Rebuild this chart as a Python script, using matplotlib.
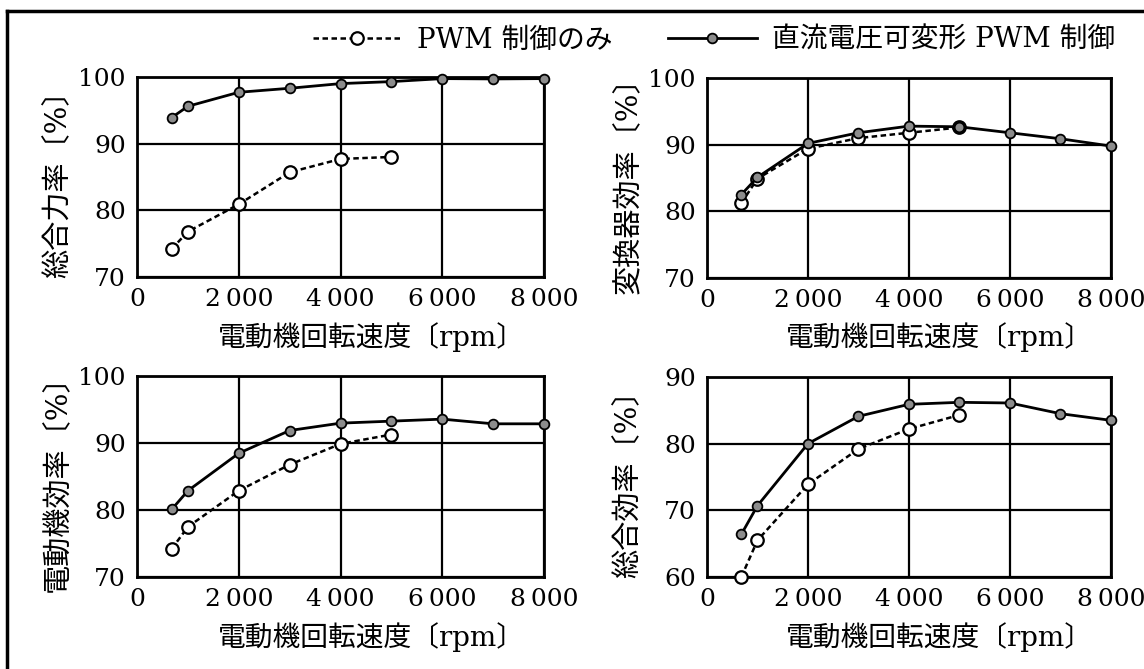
import matplotlib.pyplot as plt
import matplotlib.ticker as ticker
from matplotlib.lines import Line2D

plt.rcParams['font.family'] = ['DejaVu Serif', 'Noto Sans CJK JP']

# motor speed [rpm]
speed_dc = [680, 1000, 2000, 3000, 4000, 5000, 6000, 7000, 8000]
speed_pwm = [680, 1000, 2000, 3000, 4000, 5000]

# 総合力率
pf_pwm = [74.2, 76.8, 80.9, 85.7, 87.7, 88.0]
pf_dc = [93.9, 95.6, 97.7, 98.3, 99.0, 99.3, 99.75, 99.7, 99.75]
# 変換器効率
conv_pwm = [81.2, 84.9, 89.4, 91.0, 91.8, 92.6]
conv_dc = [82.5, 85.1, 90.2, 91.8, 92.8, 92.7, 91.8, 90.9, 89.8]
# 電動機効率
motor_pwm = [74.2, 77.5, 82.9, 86.8, 89.9, 91.3]
motor_dc = [80.1, 82.9, 88.5, 91.9, 93.0, 93.3, 93.6, 92.9, 92.9]
# 総合効率
total_pwm = [60.0, 65.5, 73.9, 79.2, 82.2, 84.3]
total_dc = [66.4, 70.7, 80.0, 84.1, 85.9, 86.2, 86.1, 84.5, 83.5]

x_ticks = [0, 2000, 4000, 6000, 8000]
x_label = '電動機回転速度〔rpm〕'
label_pwm = 'PWM 制御のみ'
label_dc = '直流電圧可変形 PWM 制御'

panels = [
    ('総合力率〔%〕', pf_pwm, pf_dc, [70, 80, 90, 100]),
    ('変換器効率〔%〕', conv_pwm, conv_dc, [70, 80, 90, 100]),
    ('電動機効率〔%〕', motor_pwm, motor_dc, [70, 80, 90, 100]),
    ('総合効率〔%〕', total_pwm, total_dc, [60, 70, 80, 90]),
]

PWM_STYLE = dict(color='black', lw=1.8, dashes=(2.2, 1.4), marker='o',
                 ms=9, mfc='white', mec='black', mew=1.6)
DC_STYLE = dict(color='black', lw=2.0, marker='o',
                ms=7, mfc='#8c8c8c', mec='black', mew=1.3)


def format_rpm(val, _):
    return f"{int(val):,}".replace(",", "\u2009")


def draw_panel(ax, ylabel, y_pwm, y_dc, y_ticks):
    ax.plot(speed_pwm, y_pwm, clip_on=False, zorder=3, **PWM_STYLE)
    ax.plot(speed_dc, y_dc, clip_on=False, zorder=4, **DC_STYLE)
    ax.set_xlim(0, 8000)
    ax.set_ylim(y_ticks[0], y_ticks[-1])
    ax.set_xticks(x_ticks)
    ax.set_yticks(y_ticks)
    ax.xaxis.set_major_formatter(ticker.FuncFormatter(format_rpm))
    ax.grid(True, color='black', lw=1.6)
    ax.set_axisbelow(True)
    for sp in ax.spines.values():
        sp.set_linewidth(2)
    ax.tick_params(length=0, labelsize=18, pad=8)
    ax.set_xlabel(x_label, fontsize=20, va='center')
    ax.xaxis.set_label_coords(0.575, -0.30)
    ax.set_ylabel(ylabel, fontsize=21, va='center')
    ax.yaxis.set_label_coords(-0.197, 0.5)


def main():
    fig = plt.figure(figsize=(11.44, 6.69), dpi=100)
    boxes = [
        [0.1198, 0.586, 0.3558, 0.299],
        [0.618, 0.585, 0.353, 0.298],
        [0.1198, 0.1375, 0.3558, 0.300],
        [0.618, 0.1375, 0.353, 0.299],
    ]
    for box, (ylabel, y_pwm, y_dc, y_ticks) in zip(boxes, panels):
        ax = fig.add_axes(box)
        draw_panel(ax, ylabel, y_pwm, y_dc, y_ticks)

    handles = [Line2D([], [], **PWM_STYLE), Line2D([], [], **DC_STYLE)]
    fig.legend(handles, [label_pwm, label_dc], loc='center',
               bbox_to_anchor=(0.624, 0.940), ncol=2, frameon=False,
               fontsize=20, handlelength=3.2, handletextpad=0.55,
               columnspacing=2.0)

    # outer frame (left and top edges only visible)
    fig.add_artist(Line2D([0.0061, 0.0061], [0.9836, 0.0], color='black',
                          lw=2.5, transform=fig.transFigure))
    fig.add_artist(Line2D([0.0061, 1.0], [0.9836, 0.9836], color='black',
                          lw=2.5, transform=fig.transFigure))

    fig.savefig('out.png', dpi=100)


if __name__ == "__main__":
    main()
